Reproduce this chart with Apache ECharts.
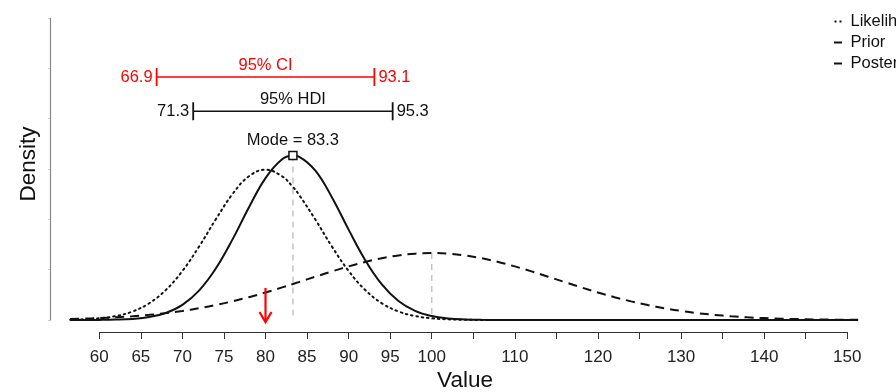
<!DOCTYPE html>
<html><head><meta charset="utf-8">
<script src="https://cdn.jsdelivr.net/npm/echarts@6/dist/echarts.min.js"></script>
<style>html,body{margin:0;padding:0;background:#fff}#c{width:896px;height:392px}</style>
</head><body><div id="c"></div>
<script>
// ---- data ----
const xValues = [56.5,58,60,62,64,66,68,70,72,74,76,78,80,82,83.3,84,86,88,90,92,94,96,98,100,102,104,106,108,
  110,112,114,116,118,120,122,124,126,128,130,132,134,136,138,140,142,144,146,148,150,151.3];
const likelihood = [0.00012,0.00026,0.00068,0.00158,0.00339,0.00664,0.01190,0.01948,0.02915,0.03990,0.04992,0.05710,0.05972,0.05710,0.05286,0.04992,0.03990,0.02915,0.01948,0.01190,0.00664,0.00339,0.00158,0.00068,0.00026,0.00009,0.00003,0.00001,
  0,0,0,0,0,0,0,0,0,0,0,0,0,0,0,0,0,0,0,0,0,0];
const prior = [0.00040,0.00053,0.00076,0.00107,0.00149,0.00204,0.00273,0.00360,0.00466,0.00592,0.00740,0.00907,0.01093,0.01295,0.01431,0.01506,0.01721,0.01931,0.02130,0.02307,0.02455,0.02567,0.02636,0.02660,0.02636,0.02567,0.02455,0.02307,
  0.02130,0.01931,0.01721,0.01506,0.01295,0.01093,0.00907,0.00740,0.00592,0.00466,0.00360,0.00273,0.00204,0.00149,0.00107,0.00076,0.00053,0.00036,0.00024,0.00016,0.00010,0.00008];
const posterior = [0.00000,0.00001,0.00004,0.00015,0.00044,0.00117,0.00280,0.00604,0.01170,0.02037,0.03184,0.04471,0.05638,0.06386,0.06537,0.06496,0.05936,0.04872,0.03591,0.02378,0.01414,0.00755,0.00362,0.00156,0.00060,0.00021,0.00007,0.00002,
  0,0,0,0,0,0,0,0,0,0,0,0,0,0,0,0,0,0,0,0,0,0];
const seriesNames = ['Likelihood', 'Prior', 'Posterior'];
const xTickLabels = [60,65,70,75,80,85,90,95,100,110,120,130,140,150];
const ciBounds = [66.9, 93.1];
const ciLevel = 0.09655;
const hdiBounds = [71.3, 95.3];
const hdiLevel = 0.08294;
const modePoint = [83.3, 0.06537];
const priorPeak = [100, 0.02660];
const arrowSpan = [80, 0.0127, -0.0008];
const labels = { ci: '95% CI', hdi: '95% HDI', mode: 'Mode = 83.3', x: 'Value', y: 'Density' };

const FONT = 'Liberation Sans, Arial, Helvetica, sans-serif';
const ANN = 16.5;
const pairs = arr => xValues.map((x, i) => [x, arr[i]]);

const chart = echarts.init(document.getElementById('c'), null, { renderer: 'canvas' });

function textEl(text, x, y, align, color, size) {
  return { type: 'text', style: { text, x, y, align, verticalAlign: 'middle', fill: color, fontSize: size, fontFamily: FONT } };
}
function lineEl(x1, y1, x2, y2, color, w, dash) {
  return { type: 'line', shape: { x1, y1, x2, y2 }, style: { stroke: color, lineWidth: w, lineDash: dash || null } };
}

function intervalEls(api, bounds, level, title, color) {
  const a = api.coord([bounds[0], level]);
  const b = api.coord([bounds[1], level]);
  return [
    lineEl(a[0], a[1], b[0], b[1], color, 1.5),
    lineEl(a[0], a[1] - 9, a[0], a[1] + 9, color, 1.8),
    lineEl(b[0], b[1] - 9, b[0], b[1] + 9, color, 1.8),
    textEl(String(bounds[0]), a[0] - 4, a[1], 'right', color, ANN),
    textEl(String(bounds[1]), b[0] + 4, b[1], 'left', color, ANN),
    textEl(title, (a[0] + b[0]) / 2, a[1] - 12, 'center', color, ANN)
  ];
}

const dotIcon = 'path://M0,0h2v2h-2zM5,0h2v2h-2z';
const dashIcon = 'path://M0,0h8v2h-8z';

const option = {
  animation: false,
  grid: [
    { left: 50, right: 38, top: 18, bottom: 72 },
    { left: 99.3, right: 48.7, top: 18, bottom: 60 }
  ],
  xAxis: [
    { type: 'value', gridIndex: 0, min: 54.07, max: 151.29, show: false },
    { type: 'value', gridIndex: 1, min: 60, max: 150, interval: 5,
      axisLine: { lineStyle: { color: '#333', width: 1 } },
      axisTick: { length: 7, lineStyle: { color: '#333' } },
      splitLine: { show: false },
      axisLabel: { margin: 17, fontSize: 17, color: '#222', fontFamily: FONT, hideOverlap: false,
        formatter: v => xTickLabels.includes(v) ? String(v) : '' } }
  ],
  yAxis: [
    { type: 'value', gridIndex: 0, min: 0, max: 0.12, interval: 0.02,
      axisLine: { show: true, lineStyle: { color: '#888', width: 1.2 } },
      axisTick: { show: true, length: 2, lineStyle: { color: '#ccc' } },
      axisLabel: { show: false }, splitLine: { show: false } },
    { type: 'value', gridIndex: 1, min: 0, max: 1, show: false }
  ],
  legend: {
    orient: 'vertical', left: 829, top: 8, itemWidth: 9, itemHeight: 2, itemGap: 4,
    data: [
      { name: seriesNames[0], icon: dotIcon },
      { name: seriesNames[1], icon: dashIcon },
      { name: seriesNames[2], icon: dashIcon }
    ],
    itemStyle: { color: '#111', borderWidth: 0 },
    textStyle: { fontSize: 16.5, color: '#111', fontFamily: FONT, lineHeight: 16, padding: [0, 0, 0, 3] }
  },
  graphic: [
    { type: 'text', x: 465, y: 381, style: { text: labels.x, align: 'center', verticalAlign: 'middle', fontSize: 22.5, fill: '#111', fontFamily: FONT } },
    { type: 'text', x: 29, y: 164, rotation: Math.PI / 2, style: { text: labels.y, align: 'center', verticalAlign: 'middle', fontSize: 22.5, fill: '#111', fontFamily: FONT } }
  ],
  series: [
    { type: 'custom', name: 'guides', xAxisIndex: 0, yAxisIndex: 0, z: 1, silent: true, data: [[0, 0]],
      renderItem: (params, api) => {
        const m1 = api.coord(modePoint), m0 = api.coord([modePoint[0], 0]);
        const p1 = api.coord(priorPeak), p0 = api.coord([priorPeak[0], 0]);
        return { type: 'group', children: [
          lineEl(m1[0], m1[1], m0[0], m0[1], '#c4c4c4', 1.5, [6, 5]),
          lineEl(p1[0], p1[1], p0[0], p0[1], '#c4c4c4', 1.5, [6, 5])
        ] };
      } },
    { type: 'line', name: seriesNames[0], xAxisIndex: 0, yAxisIndex: 0, z: 2, data: pairs(likelihood),
      symbol: 'none', smooth: 0.4,
      lineStyle: { color: '#111', width: 2, type: [1.6, 3.8], cap: 'round' }, itemStyle: { color: '#111' } },
    { type: 'line', name: seriesNames[1], xAxisIndex: 0, yAxisIndex: 0, z: 2, data: pairs(prior),
      symbol: 'none', smooth: 0.4,
      lineStyle: { color: '#111', width: 2, type: [9, 6] }, itemStyle: { color: '#111' } },
    { type: 'line', name: seriesNames[2], xAxisIndex: 0, yAxisIndex: 0, z: 2, data: pairs(posterior),
      symbol: 'none', smooth: 0.4,
      lineStyle: { color: '#111', width: 2, type: 'solid' }, itemStyle: { color: '#111' } },
    { type: 'custom', name: 'annotations', xAxisIndex: 0, yAxisIndex: 0, z: 3, silent: true, data: [[0, 0]],
      renderItem: (params, api) => {
        const m = api.coord(modePoint);
        const at = api.coord([arrowSpan[0], arrowSpan[1]]);
        const ab = api.coord([arrowSpan[0], arrowSpan[2]]);
        const children = []
          .concat(intervalEls(api, ciBounds, ciLevel, labels.ci, '#ff0000'))
          .concat(intervalEls(api, hdiBounds, hdiLevel, labels.hdi, '#111'))
          .concat([
            textEl(labels.mode, m[0], m[1] - 15, 'center', '#111', ANN),
            { type: 'rect', shape: { x: m[0] - 4, y: m[1] - 4, width: 8, height: 8 }, style: { fill: '#fff', stroke: '#111', lineWidth: 1.5 } },
            lineEl(at[0], at[1], ab[0], ab[1] - 1, '#ff0000', 2.2),
            { type: 'polyline', shape: { points: [[ab[0] - 6, ab[1] - 10], [ab[0], ab[1]], [ab[0] + 6, ab[1] - 10]] }, style: { stroke: '#ff0000', fill: null, lineWidth: 2.2 } }
          ]);
        return { type: 'group', children };
      } }
  ]
};
chart.setOption(option);
</script>
</body></html>
